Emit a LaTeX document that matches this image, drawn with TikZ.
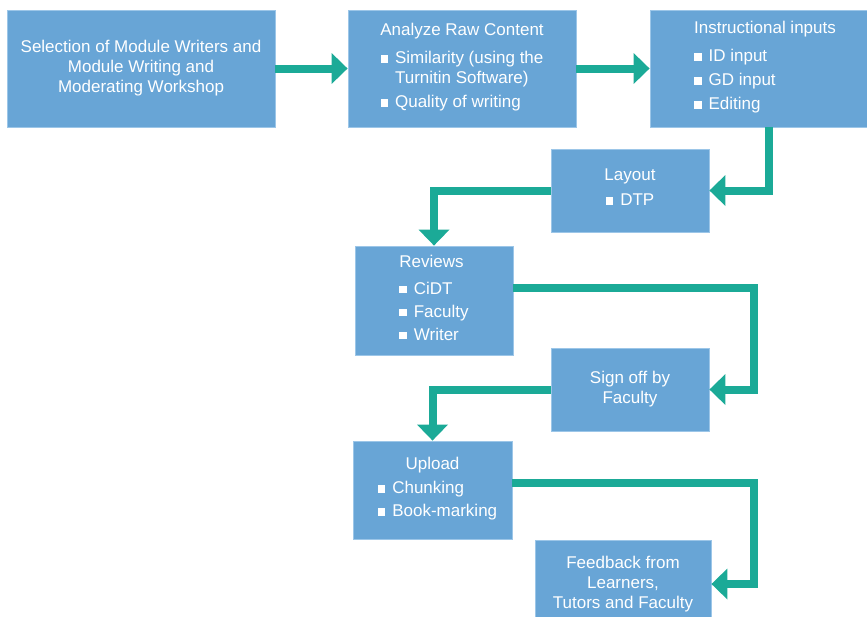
\documentclass[tikz,border=0pt]{standalone}
\usepackage{fontspec}
\setmainfont{Liberation Sans}
\usepackage{xcolor}
\usetikzlibrary{arrows.meta}
\definecolor{boxblue}{HTML}{68A5D6}
\definecolor{boxedge}{HTML}{9CC6E8}
\definecolor{flowteal}{HTML}{1BAA97}
\newcommand\bitem{\rule[1pt]{7.5pt}{7.5pt}\hspace{7pt}}
\newcommand\bskip{\hspace{14.5pt}}
\begin{document}
\begin{tikzpicture}[x=1pt,y=-1pt,
  box/.style={fill=boxblue,draw=boxedge,line width=0.8pt,text=white,
    align=center,inner sep=0pt,font=\fontsize{17}{20}\selectfont},
  flow/.style={draw=flowteal,line width=8pt,
    -{Triangle[width=30pt,length=16pt]}}]
\useasboundingbox (0,0) rectangle (867,616);
% top row
\node[box,minimum width=268pt,minimum height=117pt] (sel) at (141,68.5)
  {Selection of Module Writers and\\Module Writing and\\Moderating Workshop};
\node[box,minimum width=228pt,minimum height=117pt] (ana) at (462,68.5)
  {Analyze Raw Content\\[8pt]
   \begin{tabular}[t]{@{}l@{}}\bitem Similarity (using the\\ \bskip Turnitin Software)\\[4pt]
   \bitem Quality of writing\end{tabular}};
\node[box,align=left,minimum width=230pt,minimum height=117pt] (ins) at (765,68.5)
  {Instructional inputs\\[8pt]
   \begin{tabular}[t]{@{}l@{}}\bitem ID input\\[4pt]\bitem GD input\\[4pt]
   \bitem Editing\end{tabular}};
% zig-zag
\node[box,minimum width=158pt,minimum height=83pt] (lay) at (630,190.5)
  {Layout\\[5pt]\begin{tabular}[t]{@{}l@{}}\bitem DTP\end{tabular}};
\node[box,align=left,minimum width=158pt,minimum height=109pt] (rev) at (434,300.5)
  {Reviews\\[7pt]
   \begin{tabular}[t]{@{}l@{}}\bitem CiDT\\[3pt]\bitem Faculty\\[3pt]
   \bitem Writer\end{tabular}};
\node[box,minimum width=158pt,minimum height=83pt] (sig) at (630,389.5)
  {Sign off by\\Faculty};
\node[box,minimum width=159pt,minimum height=98pt] (upl) at (432.5,490)
  {Upload\\[4pt]
   \hspace{10pt}\begin{tabular}[t]{@{}l@{}}\bitem Chunking\\[3pt]\bitem Book-marking\end{tabular}};
\node[box,minimum width=176pt,minimum height=88pt] (fbk) at (623,584)
  {Feedback from\\Learners,\\Tutors and Faculty};
% arrows
\draw[flow] (sel) -- (ana);
\draw[flow] (ana) -- (ins);
\draw[flow] ([xshift=4pt]ins.south) |- (lay);
\draw[flow] (lay) -| (rev);
\draw[flow] ([yshift=13pt]rev.east) -| ([xshift=45pt]sig.east) -- (sig.east);
\draw[flow] (sig) -| (upl);
\draw[flow] ([yshift=7pt]upl.east) -| ([xshift=43pt]fbk.east) -- (fbk.east);
\end{tikzpicture}
\end{document}
